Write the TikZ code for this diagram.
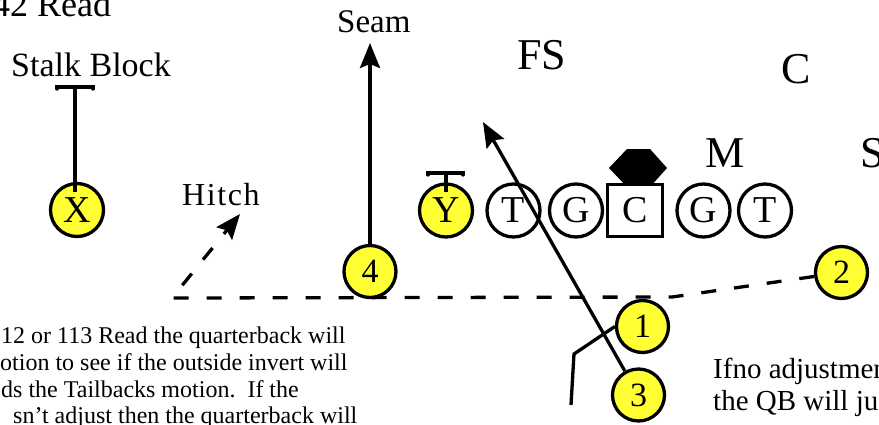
\documentclass[tikz,border=0pt]{standalone}
\usepackage{fontspec}
\setmainfont{Liberation Serif}
\newfontfamily\spacedfont[LetterSpace=5]{Liberation Serif}
\usetikzlibrary{arrows.meta}
\definecolor{pyellow}{RGB}{255,255,51}
\begin{document}
\begin{tikzpicture}[x=1pt,y=-1pt,
  player/.style={circle,draw,line width=3.3pt,minimum size=53pt,inner sep=0pt,fill=white,font=\fontsize{38}{38}\selectfont},
  yplayer/.style={player,fill=pyellow},
  num/.style={circle,draw,line width=3.3pt,fill=pyellow,minimum size=52pt,inner sep=0pt,font=\fontsize{34}{34}\selectfont},
  route/.style={line width=3.3pt},
  dashroute/.style={line width=3.3pt,dash pattern=on 15pt off 18pt},
  tipped/.style={-{Stealth[length=25pt,width=20pt,inset=4pt]}},
  lbl/.style={inner sep=0pt,anchor=base west},
  big/.style={font=\fontsize{44}{44}\selectfont},
  note/.style={lbl,font=\fontsize{24}{24}\selectfont},
  rnote/.style={lbl,font=\fontsize{29}{29}\selectfont},
]
\clip (0,0) rectangle (879,424);
% coordinates
\coordinate (seamtip) at (370,43);
\coordinate (bend1) at (672,297);
\coordinate (corner) at (172,298);
\coordinate (hitchtip) at (240,214);
\coordinate (fstip) at (483,122);
\coordinate (r1a) at (571,405);
\coordinate (r1b) at (574,354);
% dashed motion / hitch route (behind players)
\node[num] (n2) at (841.5,272.5) {2};
\draw[dashroute,tipped] (n2) -- (bend1) -- (corner) -- (hitchtip);
% players
\node[yplayer] (X) at (77,210) {X};
\node[yplayer] (Y) at (446,210.5) {Y};
\node[player] (T1) at (513.5,210.5) {T};
\node[player] (G1) at (576,210.5) {G};
\fill (627,149) -- (650,149) -- (667,168) -- (650,187) -- (627,187) -- (609,168) -- cycle;
\node[draw,line width=3.3pt,fill=white,minimum width=55pt,minimum height=52pt,inner sep=0pt,font=\fontsize{38}{38}\selectfont] (Cn) at (635,210.5) {C};
\node[player] (G2) at (703.5,210.5) {G};
\node[player] (T2) at (765,210.5) {T};
% numbered backs
\node[num] (n4) at (370,271.5) {4};
\node[num] (n1) at (642.5,326.5) {1};
\node[num] (n3) at (638.5,395) {3};
% blocks
\coordinate (xbl) at (57,87); \coordinate (xbr) at (93,87); \coordinate (xbm) at (75,87); \coordinate (xbe) at (75,192);
\draw[route,line cap=round] ([yshift=-2pt]xbl) -- (xbl) -- (xbr) -- ([yshift=-2pt]xbr);
\draw[route] (xbm) -- (xbe);
\coordinate (ybl) at (428,173); \coordinate (ybr) at (463,173); \coordinate (ybm) at (446,173); \coordinate (ybe) at (446,192);
\draw[route,line cap=round] ([yshift=-2pt]ybl) -- (ybl) -- (ybr) -- ([yshift=-2pt]ybr);
\draw[route] (ybm) -- (ybe);
% routes
\draw[route,tipped] (n4.north) -- (seamtip);
\draw[route,tipped] (n3) -- (fstip);
\draw[route] (r1a) -- (r1b) -- (n1.west);
% labels
\node[lbl,font=\fontsize{36}{36}\selectfont] (title) at (-8,16) {42 Read};
\node[lbl,font=\fontsize{34}{34}\selectfont] (stalk) at (11,76) {Stalk Block};
\node[lbl,font=\fontsize{33}{33}\selectfont] (seam) at (337,32) {Seam};
\node[lbl,font=\spacedfont\fontsize{32}{32}\selectfont] (hitch) at (182,205) {Hitch};
\node[lbl,big] (fs) at (517,69) {FS};
\node[big,inner sep=0pt,anchor=base] (cb) at (796,83) {C};
\node[lbl,big] (mb) at (705,167) {M};
\node[lbl,big] (sb) at (860,167) {S};
% notes
\node[note] (l1) at (1,343) {12 or 113 Read the quarterback will};
\node[note] (l2) at (0,370) {otion to see if the outside invert will};
\node[note] (l3) at (1,397) {ds the Tailbacks motion.\ \ If the};
\node[note] (l4) at (13,423) {sn't adjust then the quarterback will};
\node[rnote] (r1) at (713,378) {Ifno adjustmen};
\node[rnote] (r2) at (713,410) {the QB will ju};
\end{tikzpicture}
\end{document}
